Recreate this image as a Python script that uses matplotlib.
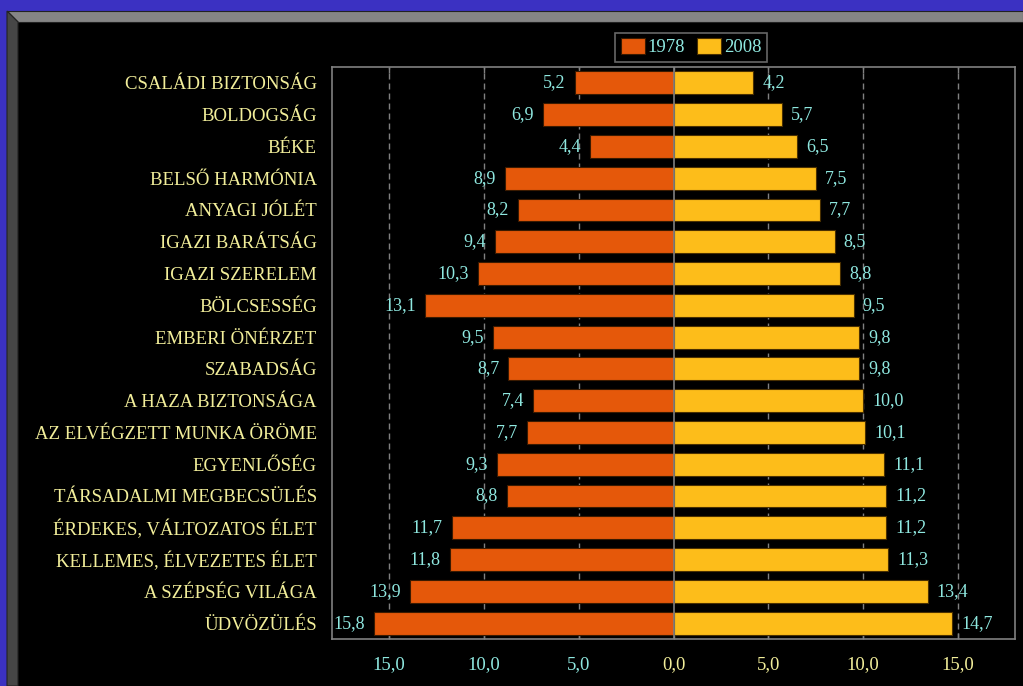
import matplotlib
matplotlib.use("Agg")
import matplotlib.pyplot as plt
from matplotlib.patches import Rectangle, Polygon
from matplotlib.ticker import FixedLocator, FuncFormatter

categories = ["CSALÁDI BIZTONSÁG", "BOLDOGSÁG", "BÉKE", "BELSŐ HARMÓNIA", "ANYAGI JÓLÉT",
              "IGAZI BARÁTSÁG", "IGAZI SZERELEM", "BÖLCSESSÉG", "EMBERI ÖNÉRZET", "SZABADSÁG",
              "A HAZA BIZTONSÁGA", "AZ ELVÉGZETT MUNKA ÖRÖME", "EGYENLŐSÉG", "TÁRSADALMI MEGBECSÜLÉS",
              "ÉRDEKES, VÁLTOZATOS ÉLET", "KELLEMES, ÉLVEZETES ÉLET", "A SZÉPSÉG VILÁGA", "ÜDVÖZÜLÉS"]
v1978 = [5.2, 6.9, 4.4, 8.9, 8.2, 9.4, 10.3, 13.1, 9.5, 8.7, 7.4, 7.7, 9.3, 8.8, 11.7, 11.8, 13.9, 15.8]
v2008 = [4.2, 5.7, 6.5, 7.5, 7.7, 8.5, 8.8, 9.5, 9.8, 9.8, 10.0, 10.1, 11.1, 11.2, 11.2, 11.3, 13.4, 14.7]
series_labels = ["1978", "2008"]
ticks = [-15, -10, -5, 0, 5, 10, 15]

plt.rcParams['font.family'] = ['Liberation Serif', 'DejaVu Serif']

C1 = "#E5580A"
C2 = "#FDBD1A"
CYAN = "#8FE8E0"
YEL = "#F2EE9A"
GRAY = "#808080"

W, H = 1023, 686
fig = plt.figure(figsize=(W / 100, H / 100), dpi=100)
fig.patch.set_facecolor("#3B31C2")

def fx(x):
    return x / W
def fy(y):
    return 1 - y / H

# black panel with bevel
fig.patches.append(Rectangle((fx(7), 0), 1 - fx(7), fy(11), transform=fig.transFigure,
                             facecolor="black", edgecolor="none", zorder=-3))
fig.patches.append(Polygon([(fx(7), fy(11)), (1, fy(11)), (1, fy(22)), (fx(18), fy(22))],
                           closed=True, transform=fig.transFigure, facecolor="#858585",
                           edgecolor="#222222", linewidth=0.8, zorder=-2))
fig.patches.append(Polygon([(fx(7), fy(11)), (fx(18), fy(22)), (fx(18), 0), (fx(7), 0)],
                           closed=True, transform=fig.transFigure, facecolor="#464646",
                           edgecolor="#222222", linewidth=0.8, zorder=-2))

ax = fig.add_axes([fx(332), fy(639), fx(1015) - fx(332), fy(67) - fy(639)])
ax.set_facecolor("black")

n = len(categories)
y = list(range(n))
neg = [-v for v in v1978]
b1 = ax.barh(y, neg, height=0.72, color=C1, edgecolor="#3a1a00", linewidth=0.8,
             label=series_labels[0], zorder=3)
b2 = ax.barh(y, v2008, height=0.72, color=C2, edgecolor="#4a3000", linewidth=0.8,
             label=series_labels[1], zorder=3)

for yi, v in zip(y, v1978):
    ax.annotate(f"{v:.1f}".replace(".", ","), (-v, yi), xytext=(-6.5, 0), textcoords="offset points",
                ha="right", va="center", color=CYAN, fontsize=13, zorder=5)
for yi, v in zip(y, v2008):
    ax.annotate(f"{v:.1f}".replace(".", ","), (v, yi), xytext=(6.5, 0), textcoords="offset points",
                ha="left", va="center", color=CYAN, fontsize=13, zorder=5)

ax.set_xlim(-18, 18)
ax.set_ylim(n - 0.5, -0.5)
ax.set_yticks(y)
ax.set_yticklabels(categories, color=YEL, fontsize=13.5)
ax.tick_params(axis="y", length=0, pad=11)

ax.xaxis.set_major_locator(FixedLocator(ticks))
ax.xaxis.set_major_formatter(FuncFormatter(lambda v, p: f"{abs(v):.1f}".replace(".", ",")))
ax.tick_params(axis="x", direction="in", length=4, color=GRAY, pad=12, labelsize=13.5,
               top=True, width=1)
for lab, t in zip(ax.get_xticklabels(), ticks):
    lab.set_color(CYAN if t < 0 else YEL)

for t in ticks:
    if t == 0:
        ax.axvline(0, color=GRAY, linewidth=1.2, zorder=4)
    else:
        ax.axvline(t, color=GRAY, linewidth=1.0, linestyle=(0, (4.3, 2.9)), zorder=1)

for s in ax.spines.values():
    s.set_color(GRAY)
    s.set_linewidth(1.2)

leg = ax.legend(loc="lower left", bbox_to_anchor=((615 - 332) / (1015 - 332), 1.0 + 5 / 572),
                ncol=2, frameon=True, fontsize=13.5, handlelength=1.3, handleheight=0.9,
                handletextpad=0.15, columnspacing=0.6, borderpad=0.3, fancybox=False,
                borderaxespad=0)
leg.get_frame().set_facecolor("black")
leg.get_frame().set_edgecolor(GRAY)
leg.get_frame().set_linewidth(1.2)
for txt in leg.get_texts():
    txt.set_color(CYAN)

fig.savefig("out.png", dpi=100, facecolor=fig.get_facecolor())
